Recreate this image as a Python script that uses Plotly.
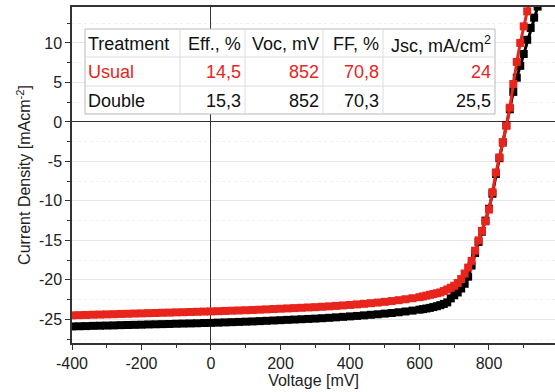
import plotly.graph_objects as go

# ---------------- data ----------------
voltage = [-400, -380, -360, -340, -320, -300, -280, -260, -240, -220,
           -200, -180, -160, -140, -120, -100, -80, -60, -40, -20,
           0, 20, 40, 60, 80, 100, 120, 140, 160, 180,
           200, 220, 240, 260, 280, 300, 320, 340, 360, 380,
           400, 420, 440, 460, 480, 500, 520, 540, 560, 580,
           600, 610, 620, 630, 640, 650, 660, 670, 680, 690,
           700, 710, 720, 730, 740, 750, 760, 770, 780, 790,
           800, 810, 820, 830, 840, 850, 860, 870, 880, 890,
           900, 910, 920, 930, 940, 950]

j_usual = [-24.50, -24.47, -24.45, -24.42, -24.40, -24.37, -24.35, -24.32, -24.30, -24.27,
           -24.25, -24.22, -24.20, -24.17, -24.15, -24.12, -24.10, -24.07, -24.05, -24.02,
           -24.00, -23.97, -23.94, -23.91, -23.88, -23.85, -23.82, -23.78, -23.74, -23.70,
           -23.66, -23.62, -23.58, -23.54, -23.50, -23.46, -23.41, -23.36, -23.30, -23.24,
           -23.18, -23.11, -23.04, -22.96, -22.88, -22.79, -22.69, -22.58, -22.46, -22.33,
           -22.20, -22.10, -22.00, -21.90, -21.80, -21.70, -21.60, -21.42, -21.22, -21.00,
           -20.75, -20.40, -19.90, -19.20, -18.45, -17.60, -16.30, -15.00, -13.80, -12.60,
           -11.10, -8.90, -6.40, -4.50, -2.60, -0.50, 1.80, 4.80, 7.60, 10.00,
           12.10, 14.00, 16.00, 18.00, 20.00, 22.00]

j_double = [-25.90, -25.88, -25.86, -25.83, -25.81, -25.79, -25.77, -25.74, -25.72, -25.70,
            -25.68, -25.65, -25.63, -25.61, -25.59, -25.56, -25.54, -25.52, -25.50, -25.47,
            -25.45, -25.42, -25.39, -25.36, -25.33, -25.30, -25.27, -25.23, -25.19, -25.15,
            -25.11, -25.07, -25.03, -24.99, -24.95, -24.91, -24.86, -24.81, -24.75, -24.69,
            -24.63, -24.57, -24.50, -24.43, -24.36, -24.28, -24.20, -24.11, -24.01, -23.90,
            -23.78, -23.71, -23.63, -23.55, -23.45, -23.34, -23.21, -23.05, -22.85, -22.35,
            -21.95, -21.60, -21.10, -20.50, -19.60, -18.20, -16.60, -15.20, -13.90, -12.50,
            -11.00, -9.10, -6.60, -4.60, -2.60, -0.40, 1.60, 3.80, 5.60, 7.10,
            8.60, 10.40, 11.90, 13.20, 14.60, 16.00]

table_header = ["Treatment", "Eff., %", "Voc, mV", "FF, %", "Jsc, mA/cm<sup>2</sup>"]
row_usual = ["Usual", "14,5", "852", "70,8", "24"]
row_double = ["Double", "15,3", "852", "70,3", "25,5"]

x_ticks = [-400, -200, 0, 200, 400, 600, 800]
x_ticktext = ["-400", "-200", "0", "200", "400", "600", "800"]
y_ticks = [-25, -20, -15, -10, -5, 0, 5, 10]
y_ticktext = ["-25", "-20", "-15", "-10", "-5", "0", "5", "10"]

RED = "#e8251d"
BLACK = "#000000"
FONT = "Liberation Sans, Arial, sans-serif"

fig = go.Figure()
for name, ys, col in [("Double", j_double, BLACK), ("Usual", j_usual, RED)]:
    fig.add_trace(go.Scatter(
        x=voltage, y=ys, name=name, mode="lines+markers",
        line=dict(color=col, width=3),
        marker=dict(symbol="square", size=8, color=col),
        showlegend=False))

# plot area in pixels
L, R, T, B = 72, 555, 7, 343
def px(x):
    return (x - L) / (R - L)
def py(y):
    return (B - y) / (B - T)

shapes = []
annotations = []
tx0, tx1 = 85, 495
rows_y = [29, 57, 86, 114]
cols_x = [85, 180, 245, 323, 383, 495]
shapes.append(dict(type="rect", xref="paper", yref="paper",
                   x0=px(tx0), x1=px(tx1), y0=py(rows_y[-1]), y1=py(rows_y[0]),
                   fillcolor="white", line=dict(color="#b8b8b8", width=1), layer="above"))
for yy in rows_y[1:-1]:
    shapes.append(dict(type="line", xref="paper", yref="paper",
                       x0=px(tx0), x1=px(tx1), y0=py(yy), y1=py(yy),
                       line=dict(color="#dddddd", width=1), layer="above"))
for xx in cols_x[1:-1]:
    shapes.append(dict(type="line", xref="paper", yref="paper",
                       x0=px(xx), x1=px(xx), y0=py(rows_y[0]), y1=py(rows_y[-1]),
                       line=dict(color="#dddddd", width=1), layer="above"))

for ri, (row, col) in enumerate([(table_header, "#111111"), (row_usual, RED), (row_double, "#111111")]):
    yc = (rows_y[ri] + rows_y[ri + 1]) / 2 + 1
    for ci, txt in enumerate(row):
        if ci == 0:
            xa, anc = cols_x[0] + 1, "left"
        else:
            xa, anc = cols_x[ci + 1] - 2, "right"
        annotations.append(dict(xref="paper", yref="paper", x=px(xa), y=py(yc),
                                text=txt, showarrow=False, xanchor=anc, yanchor="middle",
                                font=dict(family=FONT, size=18, color=col)))

fig.update_layout(
    width=555, height=392,
    margin=dict(l=L, r=555 - R, t=T, b=392 - B),
    paper_bgcolor="white", plot_bgcolor="white",
    font=dict(family=FONT, size=16, color="#222222"),
    shapes=shapes, annotations=annotations,
    xaxis=dict(range=[-400, 990], tickvals=x_ticks, ticktext=x_ticktext, showgrid=False,
               ticks="outside", ticklen=5, tickwidth=1.2, tickcolor="#333",
               showline=True, linecolor="#333", linewidth=1.5, mirror=True,
               zeroline=True, zerolinecolor="#333", zerolinewidth=1.2,
               minor=dict(dtick=100, ticks="outside", ticklen=3, tickcolor="#333", showgrid=False),
               title=dict(text="Voltage [mV]", standoff=2, font=dict(size=16)),
               tickfont=dict(size=16)),
    yaxis=dict(range=[-28, 14.55], tickvals=y_ticks, ticktext=y_ticktext,
               showgrid=True, gridcolor="#e6e6e6", gridwidth=1,
               ticks="outside", ticklen=5, tickwidth=1.2, tickcolor="#333",
               showline=True, linecolor="#333", linewidth=1.5,
               zeroline=True, zerolinecolor="#333", zerolinewidth=1.2,
               minor=dict(dtick=2.5, tick0=0, ticks="outside", ticklen=3, tickcolor="#333",
                          showgrid=True, gridcolor="#f0f0f0", griddash="dot"),
               title=dict(text="Current Density [mAcm<sup>-2</sup>]", standoff=4, font=dict(size=16)),
               tickfont=dict(size=16)),
)

fig.write_html("out.html")
